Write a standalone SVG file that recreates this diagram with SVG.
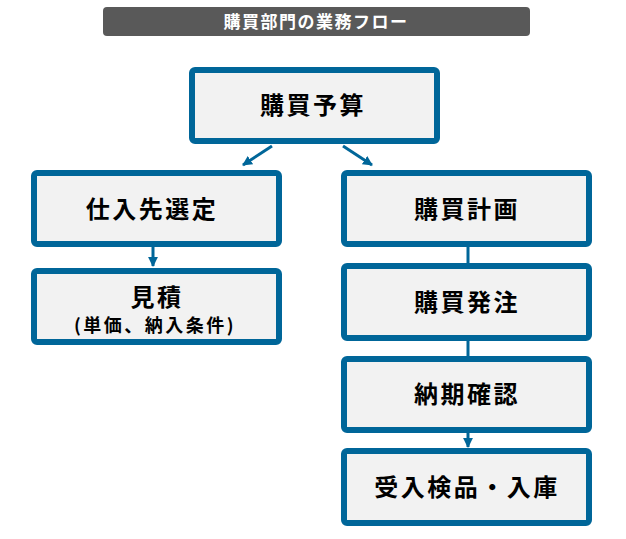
<svg xmlns="http://www.w3.org/2000/svg" width="626" height="539" viewBox="0 0 626 539">
<style>
.box{fill:#f2f2f2;stroke:#006699;stroke-width:6}
.lbl{font-family:"Noto Sans CJK JP","Liberation Sans",sans-serif;font-weight:bold;font-size:24px;fill:#000;text-anchor:middle;dominant-baseline:central;letter-spacing:2.5px}
.sub{font-size:18px;letter-spacing:2.5px}
.title{font-family:"Noto Sans CJK JP","Liberation Sans",sans-serif;font-weight:bold;font-size:17px;fill:#fff;text-anchor:middle;dominant-baseline:central;letter-spacing:1.5px}
.conn{stroke:#006699;stroke-width:3;fill:none}
</style>
<defs>
<marker id="ah" viewBox="0 0 10 10" refX="9" refY="5" markerWidth="3.3" markerHeight="3.3" orient="auto" markerUnits="strokeWidth">
<path d="M0,0 L10,5 L0,10 z" fill="#006699"/>
</marker>
</defs>
<g id="title">
<rect x="103" y="7" width="427" height="29" rx="4" fill="#595959"/>
<text class="title" x="316" y="20">購買部門の業務フロー</text>
</g>
<g id="connectors">
<line class="conn" x1="272" y1="146" x2="243" y2="165" marker-end="url(#ah)"/>
<line class="conn" x1="343" y1="146" x2="372" y2="165" marker-end="url(#ah)"/>
<line class="conn" x1="153" y1="247" x2="153" y2="266" marker-end="url(#ah)"/>
<line class="conn" x1="468" y1="247" x2="468" y2="263"/>
<line class="conn" x1="468" y1="341" x2="468" y2="356"/>
<line class="conn" x1="468" y1="433" x2="468" y2="447" marker-end="url(#ah)"/>
</g>
<g id="n-budget">
<rect class="box" x="192" y="70" width="245" height="71" rx="3"/>
<text class="lbl" x="313" y="103">購買予算</text>
</g>
<g id="n-supplier">
<rect class="box" x="34" y="173" width="245" height="71" rx="3"/>
<text class="lbl" x="152" y="207">仕入先選定</text>
</g>
<g id="n-estimate">
<rect class="box" x="34" y="271" width="245" height="71" rx="3"/>
<text class="lbl" x="157" y="295">見積</text>
<text class="lbl sub" x="155" y="324">(単価、納入条件)</text>
</g>
<g id="n-plan">
<rect class="box" x="344" y="173" width="245" height="71" rx="3"/>
<text class="lbl" x="467" y="207">購買計画</text>
</g>
<g id="n-order">
<rect class="box" x="344" y="266" width="245" height="72" rx="3"/>
<text class="lbl" x="467" y="300">購買発注</text>
</g>
<g id="n-delivery">
<rect class="box" x="344" y="359" width="245" height="71" rx="3"/>
<text class="lbl" x="467" y="392">納期確認</text>
</g>
<g id="n-receive">
<rect class="box" x="344" y="451" width="245" height="72" rx="3"/>
<text class="lbl" x="467" y="485">受入検品・入庫</text>
</g>
</svg>
